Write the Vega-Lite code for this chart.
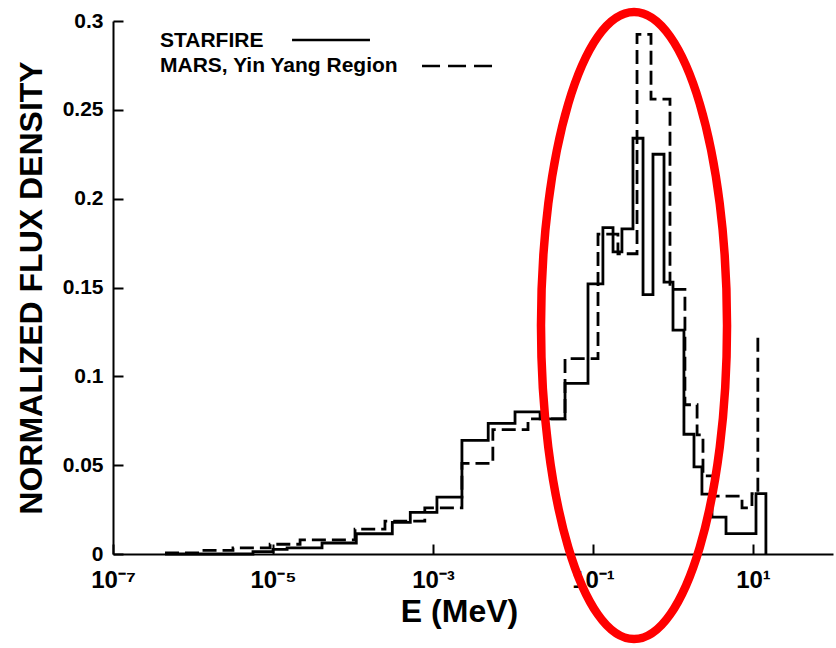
{
  "$schema": "https://vega.github.io/schema/vega-lite/v6.json",
  "width": 720,
  "height": 533,
  "autosize": {"type": "none"},
  "padding": {"left": 113, "top": 21, "right": 3, "bottom": 94},
  "background": "white",
  "config": {"view": {"stroke": null}, "font": "Liberation Sans"},
  "datasets": {
    "hist": [
      {"series": "STARFIRE", "E": 4.47e-7, "flux": 0},
      {"series": "STARFIRE", "E": 5.62e-6, "flux": 0.0013},
      {"series": "STARFIRE", "E": 1e-5, "flux": 0.0026},
      {"series": "STARFIRE", "E": 1.5e-5, "flux": 0.0035},
      {"series": "STARFIRE", "E": 4.1e-5, "flux": 0.0062},
      {"series": "STARFIRE", "E": 1.1e-4, "flux": 0.0114},
      {"series": "STARFIRE", "E": 3.1e-4, "flux": 0.0178},
      {"series": "STARFIRE", "E": 5.2e-4, "flux": 0.0234},
      {"series": "STARFIRE", "E": 1.12e-3, "flux": 0.032},
      {"series": "STARFIRE", "E": 2.3e-3, "flux": 0.064},
      {"series": "STARFIRE", "E": 4.9e-3, "flux": 0.0735},
      {"series": "STARFIRE", "E": 0.0106, "flux": 0.08},
      {"series": "STARFIRE", "E": 0.0218, "flux": 0.076},
      {"series": "STARFIRE", "E": 0.0447, "flux": 0.096},
      {"series": "STARFIRE", "E": 0.0866, "flux": 0.152},
      {"series": "STARFIRE", "E": 0.133, "flux": 0.1837},
      {"series": "STARFIRE", "E": 0.178, "flux": 0.17},
      {"series": "STARFIRE", "E": 0.23, "flux": 0.183},
      {"series": "STARFIRE", "E": 0.316, "flux": 0.234},
      {"series": "STARFIRE", "E": 0.422, "flux": 0.146},
      {"series": "STARFIRE", "E": 0.562, "flux": 0.225},
      {"series": "STARFIRE", "E": 0.772, "flux": 0.153},
      {"series": "STARFIRE", "E": 1.0, "flux": 0.126},
      {"series": "STARFIRE", "E": 1.37, "flux": 0.0674},
      {"series": "STARFIRE", "E": 1.83, "flux": 0.049},
      {"series": "STARFIRE", "E": 2.3, "flux": 0.0337},
      {"series": "STARFIRE", "E": 3.07, "flux": 0.0208},
      {"series": "STARFIRE", "E": 4.6, "flux": 0.0115},
      {"series": "STARFIRE", "E": 10.9, "flux": 0.034},
      {"series": "STARFIRE", "E": 14.5, "flux": 0},
      {"series": "MARS, Yin Yang Region", "E": 4.47e-7, "flux": 0.0006},
      {"series": "MARS, Yin Yang Region", "E": 1.22e-6, "flux": 0.002},
      {"series": "MARS, Yin Yang Region", "E": 3.16e-6, "flux": 0.0035},
      {"series": "MARS, Yin Yang Region", "E": 9.2e-6, "flux": 0.0055},
      {"series": "MARS, Yin Yang Region", "E": 2.18e-5, "flux": 0.008},
      {"series": "MARS, Yin Yang Region", "E": 1.06e-4, "flux": 0.014},
      {"series": "MARS, Yin Yang Region", "E": 2.51e-4, "flux": 0.0185},
      {"series": "MARS, Yin Yang Region", "E": 7.9e-4, "flux": 0.026},
      {"series": "MARS, Yin Yang Region", "E": 2.3e-3, "flux": 0.051},
      {"series": "MARS, Yin Yang Region", "E": 5.6e-3, "flux": 0.07},
      {"series": "MARS, Yin Yang Region", "E": 0.0154, "flux": 0.076},
      {"series": "MARS, Yin Yang Region", "E": 0.0447, "flux": 0.11},
      {"series": "MARS, Yin Yang Region", "E": 0.1155, "flux": 0.18},
      {"series": "MARS, Yin Yang Region", "E": 0.205, "flux": 0.169},
      {"series": "MARS, Yin Yang Region", "E": 0.355, "flux": 0.2925},
      {"series": "MARS, Yin Yang Region", "E": 0.531, "flux": 0.256},
      {"series": "MARS, Yin Yang Region", "E": 0.917, "flux": 0.149},
      {"series": "MARS, Yin Yang Region", "E": 1.41, "flux": 0.084},
      {"series": "MARS, Yin Yang Region", "E": 2.0, "flux": 0.067},
      {"series": "MARS, Yin Yang Region", "E": 2.37, "flux": 0.044},
      {"series": "MARS, Yin Yang Region", "E": 3.16, "flux": 0.0326},
      {"series": "MARS, Yin Yang Region", "E": 7.29, "flux": 0.026},
      {"series": "MARS, Yin Yang Region", "E": 9.7, "flux": 0.034},
      {"series": "MARS, Yin Yang Region", "E": 11.5, "flux": 0.124}
    ]
  },
  "layer": [
    {
      "data": {"name": "hist"},
      "mark": {"type": "line", "interpolate": "step-after", "color": "black", "strokeWidth": 2.8, "strokeCap": "butt", "strokeJoin": "miter"},
      "encoding": {
        "x": {
          "field": "E", "type": "quantitative",
          "scale": {"type": "log", "domain": [1e-7, 100], "nice": false},
          "axis": {
            "values": [1e-7, 1e-5, 1e-3, 0.1, 10],
            "labelExpr": "datum.value < 1e-6 ? '10⁻⁷' : datum.value < 1e-4 ? '10⁻⁵' : datum.value < 0.01 ? '10⁻³' : datum.value < 1 ? '10⁻¹' : '10¹'",
            "title": "E (MeV)",
            "grid": false,
            "domainColor": "black", "domainWidth": 2,
            "tickColor": "black", "tickWidth": 2, "tickSize": -10,
            "labelFont": "Liberation Sans", "labelFontWeight": "bold", "labelFontSize": 24, "labelColor": "black",
            "labelPadding": 24, "labelFlush": false, "labelDx": 8,
            "titleFont": "Liberation Sans", "titleFontSize": 32, "titleFontWeight": "bold", "titleColor": "black", "titlePadding": 4,
            "titleX": 346
          }
        },
        "y": {
          "field": "flux", "type": "quantitative",
          "scale": {"domain": [0, 0.3], "nice": false},
          "axis": {
            "values": [0, 0.05, 0.1, 0.15, 0.2, 0.25, 0.3],
            "format": "~g",
            "title": "NORMALIZED FLUX DENSITY",
            "grid": false,
            "domainColor": "black", "domainWidth": 2,
            "tickColor": "black", "tickWidth": 2, "tickSize": -10,
            "labelFont": "Liberation Sans", "labelFontWeight": "bold", "labelFontSize": 21, "labelColor": "black",
            "labelPadding": 20,
            "titleFont": "Liberation Sans", "titleFontSize": 32, "titleFontWeight": "bold", "titleColor": "black", "titlePadding": 14
          }
        },
        "strokeDash": {
          "field": "series", "type": "nominal",
          "scale": {"domain": ["STARFIRE", "MARS, Yin Yang Region"], "range": [[1, 0], [14, 6]]},
          "legend": null
        }
      }
    },
    {
      "data": {"values": [{}]},
      "mark": {"type": "text", "text": "STARFIRE", "align": "left", "baseline": "middle", "font": "Liberation Sans", "fontSize": 21, "fontWeight": "bold", "color": "black"},
      "encoding": {"x": {"datum": 3.87e-7, "type": "quantitative"}, "y": {"datum": 0.2887, "type": "quantitative"}}
    },
    {
      "data": {"values": [{}]},
      "mark": {"type": "text", "text": "MARS, Yin Yang Region", "align": "left", "baseline": "middle", "font": "Liberation Sans", "fontSize": 21, "fontWeight": "bold", "color": "black"},
      "encoding": {"x": {"datum": 3.87e-7, "type": "quantitative"}, "y": {"datum": 0.2747, "type": "quantitative"}}
    },
    {
      "data": {"values": [{}]},
      "mark": {"type": "rule", "color": "black", "strokeWidth": 2.5},
      "encoding": {"x": {"datum": 1.73e-5, "type": "quantitative"}, "x2": {"datum": 1.63e-4}, "y": {"datum": 0.2893, "type": "quantitative"}}
    },
    {
      "data": {"values": [{}]},
      "mark": {"type": "rule", "color": "black", "strokeWidth": 2.5, "strokeDash": [18, 8]},
      "encoding": {"x": {"datum": 7.29e-4, "type": "quantitative"}, "x2": {"datum": 5.47e-3}, "y": {"datum": 0.2747, "type": "quantitative"}}
    },
    {
      "data": {"values": [{}]},
      "mark": {"type": "point", "shape": "M0,-1A0.2967,1,0,1,1,0,1A0.2967,1,0,1,1,0,-1Z", "filled": false, "stroke": "#ff0000", "strokeWidth": 8.5, "opacity": 1, "size": 393129},
      "encoding": {"x": {"datum": 0.3256, "type": "quantitative"}, "y": {"datum": 0.1286, "type": "quantitative"}}
    }
  ]
}
